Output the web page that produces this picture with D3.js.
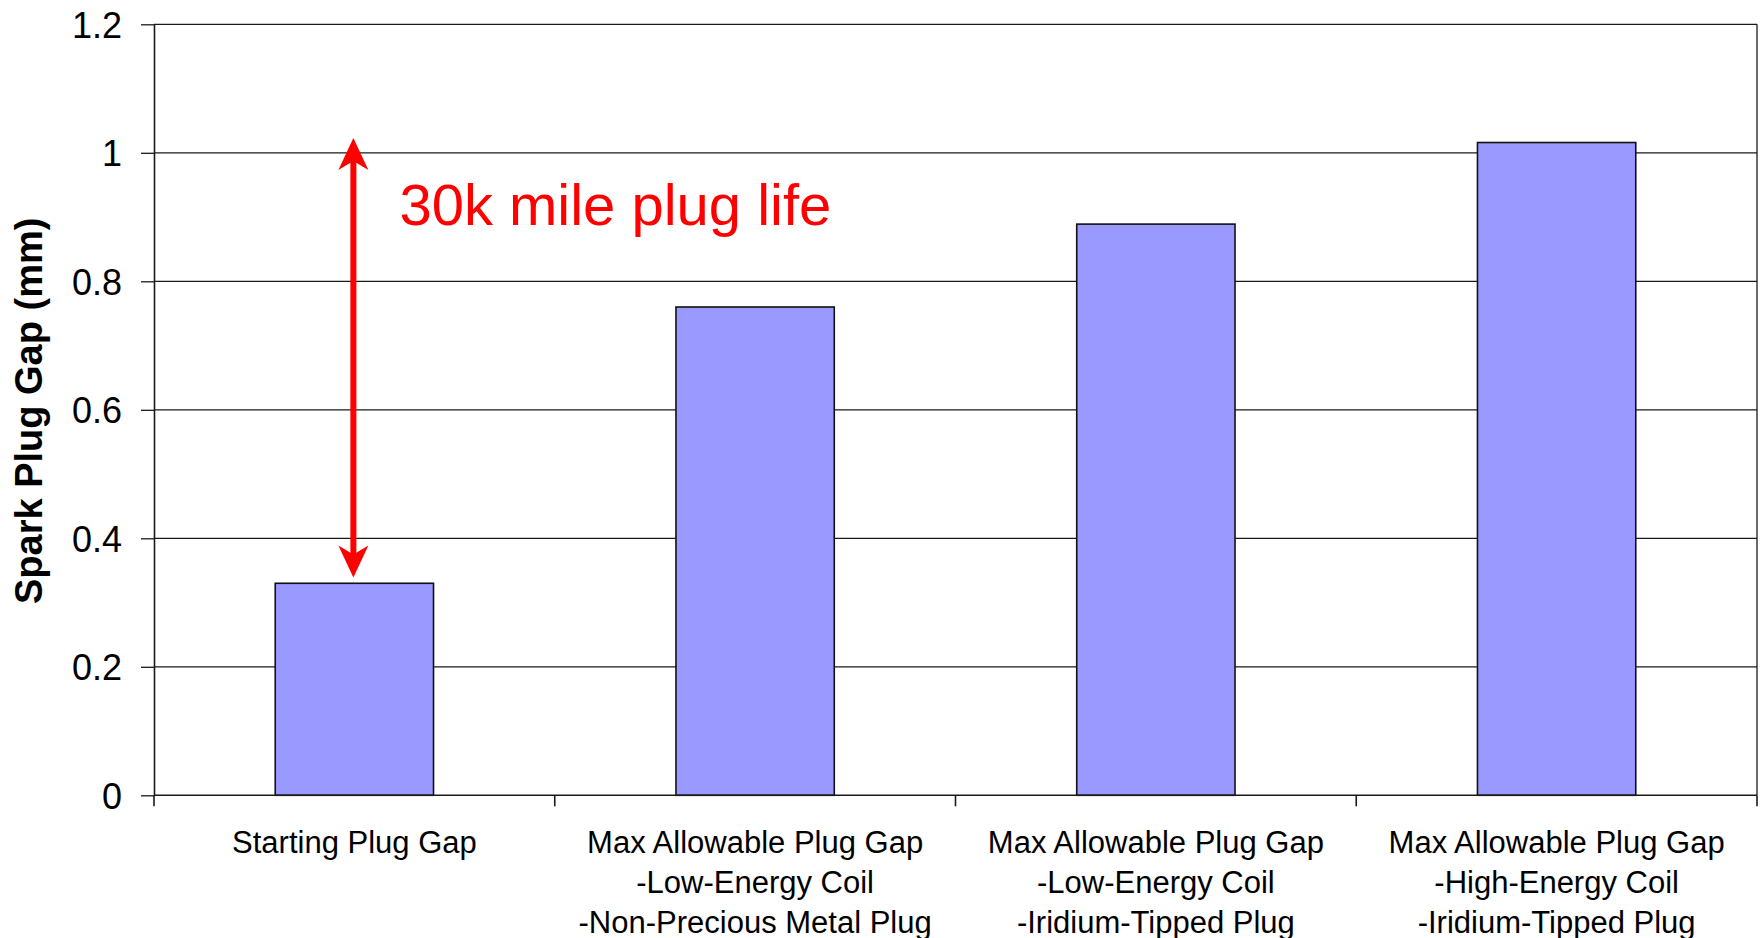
<!DOCTYPE html>
<html>
<head>
<meta charset="utf-8">
<script src="https://cdn.jsdelivr.net/npm/d3@7"></script>
<style>
  html, body { margin: 0; padding: 0; background: #ffffff; }
  svg { display: block; }
  text { font-family: "Liberation Sans", Arial, sans-serif; }
</style>
</head>
<body>
<script>
// ---- data ----
const categories = [
  "Starting Plug Gap",
  "Max Allowable Plug Gap\n-Low-Energy Coil\n-Non-Precious Metal Plug",
  "Max Allowable Plug Gap\n-Low-Energy Coil\n-Iridium-Tipped Plug",
  "Max Allowable Plug Gap\n-High-Energy Coil\n-Iridium-Tipped Plug"
];
const values = [0.33, 0.76, 0.889, 1.016];
const yTicks = [0, 0.2, 0.4, 0.6, 0.8, 1, 1.2];
const yTickLabels = ["0", "0.2", "0.4", "0.6", "0.8", "1", "1.2"];
const yTitle = "Spark Plug Gap (mm)";
const annotationText = "30k mile plug life";
const arrowFrom = 0.339;   // value at lower arrow tip
const arrowTo = 1.023;     // value at upper arrow tip
const annotationValue = 0.888; // text baseline value

// ---- layout ----
const W = 1761, H = 938;
const plot = { left: 154, right: 1757, top: 24.3, bottom: 795.3 };

const svg = d3.select("body").append("svg")
  .attr("width", W).attr("height", H);

svg.append("rect").attr("width", W).attr("height", H).attr("fill", "#ffffff");

const x = d3.scaleBand().domain(categories).range([plot.left, plot.right]).padding(0);
const y = d3.scaleLinear().domain([0, 1.2]).range([plot.bottom, plot.top]);

// gridlines
svg.append("g").selectAll("line").data(yTicks.filter(d => d > 0)).join("line")
  .attr("x1", plot.left).attr("x2", plot.right)
  .attr("y1", d => y(d)).attr("y2", d => y(d))
  .attr("stroke", "#1a1a1a").attr("stroke-width", 1.3);

// right border of plot area
svg.append("line")
  .attr("x1", plot.right).attr("x2", plot.right)
  .attr("y1", plot.top).attr("y2", plot.bottom)
  .attr("stroke", "#1a1a1a").attr("stroke-width", 1.3);

// bars
const barFrac = 0.395;
svg.append("g").selectAll("rect").data(values).join("rect")
  .attr("x", (d, i) => x(categories[i]) + x.bandwidth() * (1 - barFrac) / 2)
  .attr("width", x.bandwidth() * barFrac)
  .attr("y", d => y(d))
  .attr("height", d => y(0) - y(d))
  .attr("fill", "#9999ff")
  .attr("stroke", "#111111")
  .attr("stroke-width", 1.6);

// y axis
const yAxis = d3.axisLeft(y).tickValues(yTicks)
  .tickFormat((d, i) => yTickLabels[i]).tickSize(13).tickPadding(19).tickSizeOuter(0);
const gy = svg.append("g").attr("transform", `translate(${plot.left},0)`).call(yAxis);
gy.select(".domain").attr("stroke", "#1a1a1a").attr("stroke-width", 1.6);
gy.selectAll(".tick line").attr("stroke", "#1a1a1a").attr("stroke-width", 1.3);
gy.selectAll(".tick text")
  .attr("font-family", "'Liberation Sans', Arial, sans-serif")
  .attr("font-size", 36).attr("fill", "#000").attr("dy", "0.36em");

// x axis (ticks at category boundaries)
svg.append("line")
  .attr("x1", plot.left).attr("x2", plot.right)
  .attr("y1", y(0)).attr("y2", y(0))
  .attr("stroke", "#1a1a1a").attr("stroke-width", 1.6);
const boundaries = categories.map(c => x(c)).concat([x(categories[categories.length - 1]) + x.bandwidth()]);
svg.append("g").selectAll("line").data(boundaries).join("line")
  .attr("x1", d => d).attr("x2", d => d)
  .attr("y1", y(0)).attr("y2", y(0) + 11)
  .attr("stroke", "#1a1a1a").attr("stroke-width", 1.6);

// x labels
const xl = svg.append("g").selectAll("text").data(categories).join("text")
  .attr("text-anchor", "middle")
  .attr("font-size", 31).attr("fill", "#000")
  .attr("transform", d => `translate(${x(d) + x.bandwidth() / 2},${y(0) + 57.4})`);
xl.each(function(d) {
  const lines = d.split("\n");
  d3.select(this).selectAll("tspan").data(lines).join("tspan")
    .attr("x", 0).attr("y", (l, i) => i * 40).text(l => l);
});

// y title
svg.append("text")
  .attr("transform", `translate(42,${(plot.top + plot.bottom) / 2 + 1}) rotate(-90)`)
  .attr("text-anchor", "middle")
  .attr("font-size", 38).attr("font-weight", "bold").attr("fill", "#000")
  .text(yTitle);

// annotation: double-headed arrow
const ax = x(categories[0]) + x.bandwidth() / 2 - 1;
const yTop = y(arrowTo), yBot = y(arrowFrom);
const headLen = 32, headHalf = 15, notch = 23;
svg.append("line")
  .attr("x1", ax).attr("x2", ax)
  .attr("y1", yTop + notch - 2).attr("y2", yBot - notch + 2)
  .attr("stroke", "#ff0000").attr("stroke-width", 6);
svg.append("path")
  .attr("d", `M${ax},${yTop} L${ax + headHalf},${yTop + headLen} L${ax},${yTop + notch} L${ax - headHalf},${yTop + headLen} Z`)
  .attr("fill", "#ff0000");
svg.append("path")
  .attr("d", `M${ax},${yBot} L${ax + headHalf},${yBot - headLen} L${ax},${yBot - notch} L${ax - headHalf},${yBot - headLen} Z`)
  .attr("fill", "#ff0000");

svg.append("text")
  .attr("x", ax + 46).attr("y", y(annotationValue))
  .attr("font-size", 58).attr("fill", "#ff0000")
  .text(annotationText);
</script>
</body>
</html>
